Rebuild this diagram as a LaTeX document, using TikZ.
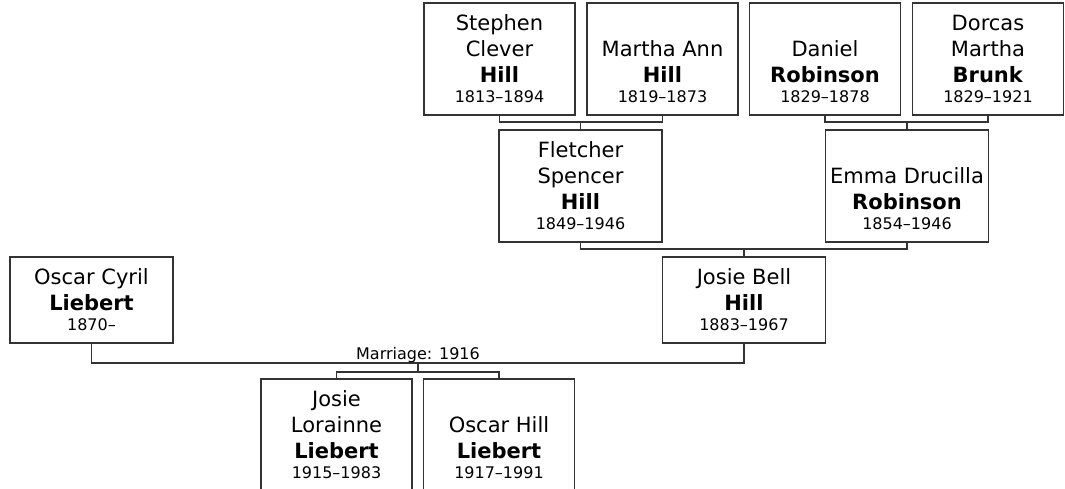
\documentclass[tikz,border=0pt]{standalone}
\usepackage{fontspec}
\setmainfont{DejaVu Sans}
% text of one card, set from the bottom up
\newcommand{\smallcard}[1]{\parbox[b][66pt][b]{113.25pt}{\centering #1}}
\newcommand{\bigcard}[1]{\parbox[b][66pt][b]{122.25pt}{\centering #1}}
\newcommand{\flatcard}[1]{\parbox[b][46.5pt][b]{122.25pt}{\centering #1}}
\newcommand{\years}[1]{\\[-4.5pt]{\fontsize{12}{15}\selectfont #1}}
\tikzset{
  person/.style={draw=black!80, line width=1.1pt, fill=white, inner xsep=0pt, inner ysep=9pt,
    font=\fontsize{15.75}{19.5}\selectfont},
  link/.style={draw=black!80, line width=1.1pt},
  note/.style={font=\fontsize{12}{15}\selectfont, inner sep=0pt}
}
\begin{document}
\begin{tikzpicture}[x=0.75pt, y=-0.75pt]
                \useasboundingbox (0,0) rectangle (1065,489);
                \clip (0,0) rectangle (1065,489);
                % Great-grandparents
                \node[person] (stephen) at (499.5,59) {\smallcard{Stephen\\Clever\\\textbf{Hill}\years{1813–1894}}};
                \node[person] (martha) at (662.5,59) {\smallcard{Martha Ann\\\textbf{Hill}\years{1819–1873}}};
                \node[person] (daniel) at (825,59) {\smallcard{Daniel\\\textbf{Robinson}\years{1829–1878}}};
                \node[person] (dorcas) at (988,59) {\smallcard{Dorcas\\Martha\\\textbf{Brunk}\years{1829–1921}}};
                % Grandparents
                \node[person] (fletcher) at (580.5,186) {\bigcard{Fletcher\\Spencer\\\textbf{Hill}\years{1849–1946}}};
                \node[person] (emma) at (907,186) {\bigcard{Emma Drucilla\\\textbf{Robinson}\years{1854–1946}}};
                % Parents
                \node[person] (oscarc) at (91.5,300) {\flatcard{Oscar Cyril\\\textbf{Liebert}\years{1870–}}};
                \node[person] (josieb) at (744,300) {\flatcard{Josie Bell\\\textbf{Hill}\years{1883–1967}}};
                % Children
                \node[person] (josiel) at (336.5,435) {\smallcard{Josie\\Lorainne\\\textbf{Liebert}\years{1915–1983}}};
                \node[person] (oscarh) at (499,435) {\smallcard{Oscar Hill\\\textbf{Liebert}\years{1917–1991}}};
                % Couples
                \coordinate (hillm) at (580.5,122);
                \coordinate (robm) at (907,122);
                \coordinate (josiem) at (744,249);
                \coordinate (marrm) at (418,363);
                \coordinate (kidsm) at (418,372);
                \draw[link] (stephen.south) |- (hillm) -| (martha.south);
                \draw[link] (hillm) -- (fletcher.north);
                \draw[link] (daniel.south) |- (robm) -| (dorcas.south);
                \draw[link] (robm) -- (emma.north);
                \draw[link] (fletcher.south) |- (josiem) -| (emma.south);
                \draw[link] (josiem) -- (josieb.north);
                \draw[link] (oscarc.south) |- (marrm) -| (josieb.south);
                \node[note, anchor=base] (marriage) at (418,359) {Marriage: 1916};
                \draw[link] (marrm) -- (kidsm);
                \draw[link] (josiel.north) |- (kidsm) -| (oscarh.north);
            \end{tikzpicture}
\end{document}
